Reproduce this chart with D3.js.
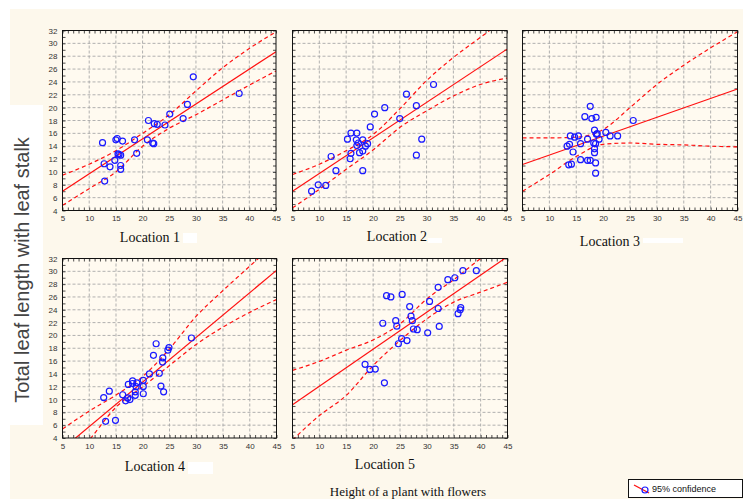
<!DOCTYPE html>
<html><head><meta charset="utf-8">
<script src="https://cdn.jsdelivr.net/npm/d3@7"></script>
<style>body{margin:0;background:#fff}svg{display:block}</style>
</head><body><svg id="c" width="743" height="499"></svg>
<script>
// ---------- data ----------
const xTicks = [5,10,15,20,25,30,35,40,45];
const yTicks = [4,6,8,10,12,14,16,18,20,22,24,26,28,30,32];
const locationNames = ["Location 1","Location 2","Location 3","Location 4","Location 5"];
const xTitle = "Height of a plant with flowers";
const yTitle = "Total leaf length with leaf stalk";
const legendLabel = "95% confidence";

const loc1X = [12.5,12.9,12.8,13.9,14.8,15.25,15.0,16.25,15.4,15.6,15.9,15.9,15.9,18.5,18.9,20.9,21.1,21.9,22.1,22.2,22.75,24.2,25.1,27.6,28.4,29.5,38.1];
const loc1Y = [14.55,8.57,11.27,10.8,11.8,15.2,15.0,14.8,12.8,12.7,12.6,11.0,10.4,15.0,12.9,15.0,18.0,14.5,14.4,17.5,17.4,17.3,19.0,18.3,20.5,24.8,22.2];
const loc2X = [8.56,9.8,11.2,12.2,13.1,15.25,15.9,17.0,16.9,18.1,15.9,15.75,17.0,17.5,18.1,19.0,18.1,19.5,20.3,22.2,25.0,26.25,28.1,28.1,29.1,31.3,17.3,18.6];
const loc2Y = [7.0,8.0,7.9,12.4,10.2,15.1,16.05,16.05,15.0,15.0,12.9,12.05,14.1,13.0,13.25,14.4,10.2,17.0,19.0,20.0,18.3,22.1,20.3,12.6,15.1,23.6,14.5,14.0];
const loc3X = [17.6,16.6,17.9,18.7,18.4,18.9,18.75,20.5,21.3,22.7,25.6,13.9,14.7,15.4,13.75,13.3,14.4,15.8,17.1,18.25,18.6,19.25,18.4,15.8,17.1,17.6,18.6,13.6,14.1,18.6,18.4];
const loc3Y = [20.2,18.6,18.3,18.5,16.5,15.95,15.85,16.15,15.6,15.6,18.0,15.6,15.4,15.6,14.3,14.0,13.1,14.4,15.1,14.5,14.4,15.1,13.0,11.9,11.8,11.8,11.4,11.1,11.2,9.8,13.6];
const loc4X = [13.06,14.9,12.7,13.75,16.25,16.8,17.2,17.6,17.3,18.1,18.1,18.6,18.6,18.9,20.1,20.1,20.1,21.25,22.5,22.0,23.1,23.4,23.9,23.7,23.75,24.7,24.9,29.1,18.75];
const loc4Y = [6.6,6.75,10.3,11.3,10.75,9.8,10.25,10.0,12.35,12.9,12.5,11.2,10.65,12.6,13.0,12.05,10.9,14.0,18.7,16.9,14.1,12.1,11.2,15.85,16.5,17.7,18.1,19.6,12.0];
const loc5X = [18.5,19.4,20.4,22.1,21.8,22.5,23.3,24.2,24.4,25.4,25.3,24.7,26.3,26.8,27.05,27.3,27.5,28.2,30.15,30.5,32.1,32.1,32.3,33.9,35.2,36.7,39.2,36.3,36.2,35.8];
const loc5Y = [15.5,14.7,14.75,12.6,21.9,26.2,26.0,22.3,21.45,26.4,19.5,18.7,19.2,24.5,23.0,22.3,21.0,20.9,20.4,25.3,27.5,24.2,21.4,28.7,29.0,30.1,30.1,24.35,24.0,23.4];

// fitted line: y at x=5 and at x=45
const loc1Fit = [7.0, 28.7];
const loc2Fit = [7.0, 29.1];
const loc3Fit = [11.15, 22.9];
const loc4Fit = [2.3, 30.15];
const loc5Fit = [9.2, 32.3];

// 95% confidence bands read at x = 5,10,...,45
const loc1Upper = [9.5,11.2,13.3,16.0,18.9,22.6,26.2,29.2,31.8];
const loc1Lower = [4.8,7.4,10.0,14.0,16.8,18.9,21.2,23.5,25.7];
const loc2Upper = [9.6,11.2,13.3,15.8,19.8,24.2,27.8,30.9,34.0];
const loc2Lower = [4.4,7.3,10.4,13.4,16.9,19.5,21.8,23.6,24.6];
const loc3Upper = [15.3,15.3,15.4,16.6,20.0,23.6,26.6,29.3,31.8];
const loc3Lower = [7.0,9.6,12.4,14.3,14.5,14.3,14.2,14.0,13.9];
const loc4Upper = [5.4,8.2,10.7,13.6,17.9,23.0,27.0,30.8,34.5];
const loc4Lower = [-1.0,3.7,8.8,12.0,15.3,18.6,21.3,23.6,25.6];
const loc5Upper = [14.55,15.95,17.7,19.3,21.8,25.7,28.7,32.0,35.0];
const loc5Lower = [3.7,7.5,10.65,15.3,19.2,22.6,25.2,26.75,28.3];

// ---------- layout ----------
const panels = [
  {name:locationNames[0], xs:loc1X, ys:loc1Y, fit:loc1Fit, up:loc1Upper, lo:loc1Lower, box:[62.5,30.5,276,210.5], yLabels:true,  lab:[150,237]},
  {name:locationNames[1], xs:loc2X, ys:loc2Y, fit:loc2Fit, up:loc2Upper, lo:loc2Lower, box:[292.5,30.5,507,210.5], yLabels:false, lab:[397,236]},
  {name:locationNames[2], xs:loc3X, ys:loc3Y, fit:loc3Fit, up:loc3Upper, lo:loc3Lower, box:[522.5,30.5,737.5,210.5], yLabels:false, lab:[610,241]},
  {name:locationNames[3], xs:loc4X, ys:loc4Y, fit:loc4Fit, up:loc4Upper, lo:loc4Lower, box:[62.5,258.5,276.5,438], yLabels:true,  lab:[155,466]},
  {name:locationNames[4], xs:loc5X, ys:loc5Y, fit:loc5Fit, up:loc5Upper, lo:loc5Lower, box:[292.5,258.5,507.5,438], yLabels:false, lab:[385,464]}
];
const cream = "#fdf8ec";

const svg = d3.select("#c");
svg.append("rect").attr("x",0).attr("y",0).attr("width",743).attr("height",499).attr("fill","#fff");
svg.append("rect").attr("x",10).attr("y",9).attr("width",733).attr("height",490).attr("fill",cream);
svg.append("rect").attr("x",0).attr("y",105).attr("width",43).attr("height",320).attr("fill","#fff");

const defs = svg.append("defs");

panels.forEach((p,i) => {
  const [x0,y0,x1,y1] = p.box;
  const x = d3.scaleLinear().domain([5,45]).range([x0,x1]);
  const y = d3.scaleLinear().domain([4,32]).range([y1,y0]);
  const g = svg.append("g");
  g.append("rect").attr("x",x0).attr("y",y0).attr("width",x1-x0).attr("height",y1-y0).attr("fill","#fffaf0");

  // grid
  g.selectAll(".gx").data(xTicks.slice(1,-1)).join("line")
    .attr("x1",d=>x(d)).attr("x2",d=>x(d)).attr("y1",y0).attr("y2",y1)
    .attr("stroke","#a8a8a8").attr("stroke-width",0.9).attr("stroke-dasharray","3,2");
  g.selectAll(".gy").data(yTicks.slice(1,-1)).join("line")
    .attr("y1",d=>y(d)).attr("y2",d=>y(d)).attr("x1",x0).attr("x2",x1)
    .attr("stroke","#a8a8a8").attr("stroke-width",0.9).attr("stroke-dasharray","3,2");

  // axes (ticks inside box)
  const xMinor = d3.range(5,46,1), yMinor = d3.range(4,33,1);
  const axB = d3.axisBottom(x).tickValues(xMinor).tickSize(-3).tickFormat("");
  const axT = d3.axisTop(x).tickValues(xMinor).tickSize(-3).tickFormat("");
  const axL = d3.axisLeft(y).tickValues(yMinor).tickSize(-3).tickFormat("");
  const axR = d3.axisRight(y).tickValues(yMinor).tickSize(-3).tickFormat("");
  [[axB,`translate(0,${y1})`],[axT,`translate(0,${y0})`],[axL,`translate(${x0},0)`],[axR,`translate(${x1},0)`]].forEach(([a,t])=>{
    const ga = g.append("g").attr("transform",t).call(a);
    ga.select(".domain").remove();
    ga.selectAll("line").attr("stroke","#222").attr("stroke-width",0.8);
  });
  // x tick labels
  const xl = g.append("g").attr("transform",`translate(0,${y1})`)
    .call(d3.axisBottom(x).tickValues(xTicks).tickSize(0).tickPadding(5));
  xl.select(".domain").remove();
  xl.selectAll("text").attr("font-family","Arial, Liberation Sans, sans-serif").attr("font-size",8).attr("fill","#333");
  if (p.yLabels) {
    const yl = g.append("g").attr("transform",`translate(${x0},0)`)
      .call(d3.axisLeft(y).tickValues(yTicks).tickSize(0).tickPadding(5));
    yl.select(".domain").remove();
    yl.selectAll("text").attr("font-family","Arial, Liberation Sans, sans-serif").attr("font-size",8).attr("fill","#333");
  }

  // clip
  defs.append("clipPath").attr("id","clip"+i).append("rect")
    .attr("x",x0).attr("y",y0).attr("width",x1-x0).attr("height",y1-y0);
  const c = g.append("g").attr("clip-path",`url(#clip${i})`);

  const band = d3.line().x((d,j)=>x(xTicks[j])).y(d=>y(d)).curve(d3.curveMonotoneX);
  c.append("path").attr("d",band(p.up)).attr("fill","none").attr("stroke","#ff1010").attr("stroke-width",1.2).attr("stroke-dasharray","4,3");
  c.append("path").attr("d",band(p.lo)).attr("fill","none").attr("stroke","#ff1010").attr("stroke-width",1.2).attr("stroke-dasharray","4,3");
  c.append("line").attr("x1",x(5)).attr("y1",y(p.fit[0])).attr("x2",x(45)).attr("y2",y(p.fit[1]))
    .attr("stroke","#ff1010").attr("stroke-width",1.2);

  c.selectAll("circle").data(p.xs.map((v,j)=>[v,p.ys[j]])).join("circle")
    .attr("cx",d=>x(d[0])).attr("cy",d=>y(d[1])).attr("r",3)
    .attr("fill","none").attr("stroke","#1a1aff").attr("stroke-width",1.2);

  // frame
  g.append("rect").attr("x",x0).attr("y",y0).attr("width",x1-x0).attr("height",y1-y0)
    .attr("fill","none").attr("stroke","#111").attr("stroke-width",1);

  // location label
  g.append("text").attr("x",p.lab[0]).attr("y",p.lab[1]).attr("dy","0.35em").attr("text-anchor","middle")
    .attr("font-family","Liberation Serif, Times New Roman, serif").attr("font-size",14).attr("fill","#111").text(p.name);
});

// white artifacts next to labels
[[183,233,14,10],[428,238,14,5],[643,238,40,5],[188,462,25,12]].forEach(r=>{
  svg.append("rect").attr("x",r[0]).attr("y",r[1]).attr("width",r[2]).attr("height",r[3]).attr("fill","#fff");
});

// axis titles
svg.append("text").attr("x",408).attr("y",491).attr("dy","0.35em").attr("text-anchor","middle")
  .attr("font-family","Liberation Serif, Times New Roman, serif").attr("font-size",13).attr("fill","#111").text(xTitle);
svg.append("text").attr("transform","translate(22,270) rotate(-90)").attr("dy","0.35em").attr("text-anchor","middle")
  .attr("font-family","Liberation Sans, Arial, sans-serif").attr("font-size",20).attr("fill","#444").text(yTitle);

// legend
const lg = svg.append("g");
lg.append("rect").attr("x",628.5).attr("y",479.5).attr("width",114).attr("height",18).attr("fill","#fff").attr("stroke","#111");
lg.append("line").attr("x1",634).attr("y1",485).attr("x2",649).attr("y2",493).attr("stroke","#ff1010").attr("stroke-width",1.2);
lg.append("circle").attr("cx",645).attr("cy",490).attr("r",3).attr("fill","none").attr("stroke","#1a1aff").attr("stroke-width",1.2);
lg.append("text").attr("x",652).attr("y",489).attr("dy","0.35em")
  .attr("font-family","Liberation Sans, Arial, sans-serif").attr("font-size",9).attr("fill","#111").text(legendLabel);
</script></body></html>
